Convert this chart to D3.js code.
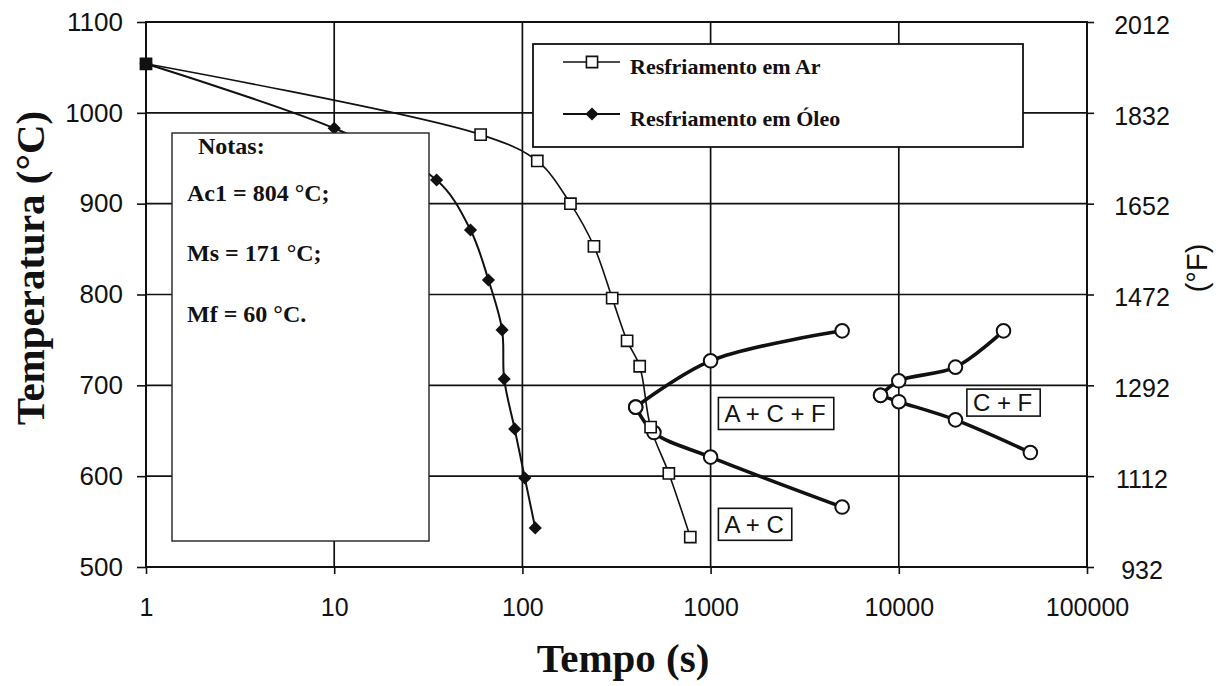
<!DOCTYPE html>
<html>
<head>
<meta charset="utf-8">
<script src="https://cdn.jsdelivr.net/npm/d3@7/dist/d3.min.js"></script>
<style>
  html, body { margin: 0; padding: 0; background: #fff; }
  svg { display: block; }
  .serif { font-family: "Liberation Serif", "Times New Roman", serif; font-weight: bold; fill: #111; }
  .sans { font-family: "Liberation Sans", Arial, sans-serif; fill: #111; }
</style>
</head>
<body>
<svg id="chart" width="1219" height="686"></svg>
<script>
// Axis ticks
const timeTicks = [1, 10, 100, 1000, 10000, 100000];
const tempTicksC = [500, 600, 700, 800, 900, 1000, 1100];
const tempTicksF = [932, 1112, 1292, 1472, 1652, 1832, 2012];

// Cooling curves (time in s, temperature in °C)
const airTime = [1, 60, 120, 180, 240, 300, 360, 420, 480, 600, 780];
const airTemp = [1054, 976, 947, 900, 853, 796, 749, 721, 654, 603, 533];
const oilTime = [1, 10, 35, 53, 66, 78, 80, 91, 103, 117];
const oilTemp = [1054, 983, 926, 871, 816, 761, 707, 652, 598, 543];

// Transformation curves
const acfUpperTime = [400, 1000, 5000];
const acfUpperTemp = [676, 727, 760];
const acfLowerTime = [400, 500, 1000, 5000];
const acfLowerTemp = [676, 648, 621, 566];
const cfUpperTime = [8000, 10000, 20000, 36000];
const cfUpperTemp = [689, 705, 720, 760];
const cfLowerTime = [8000, 10000, 20000, 50000];
const cfLowerTemp = [689, 682, 662, 626];

// Phase field labels (anchored at left / middle of their box)
const phaseLabels = ["A + C + F", "A + C", "C + F"];
const phaseTime = [1100, 1100, 23000];
const phaseTemp = [669, 547, 681];

const legendNames = ["Resfriamento em Ar", "Resfriamento em Óleo"];
const notes = ["Notas:", "Ac1 = 804 °C;", "Ms = 171 °C;", "Mf = 60 °C."];

const zip = (xs, ys) => xs.map((v, i) => [v, ys[i]]);

const svg = d3.select("#chart");
const L = 146, R = 1087, T = 22, B = 567;

const x = d3.scaleLog().domain([1, 100000]).range([L, R]);
const y = d3.scaleLinear().domain([500, 1100]).range([B, T]);
const yF = d3.scaleLinear().domain([932, 2012]).range([B, T]);

// Grid
const grid = svg.append("g").attr("stroke", "#111").attr("stroke-width", 1.7);
grid.selectAll("line.h").data(tempTicksC).join("line")
  .attr("x1", L).attr("x2", R).attr("y1", d => y(d)).attr("y2", d => y(d));
grid.selectAll("line.v").data(timeTicks).join("line")
  .attr("y1", T).attr("y2", B).attr("x1", d => x(d)).attr("x2", d => x(d));

// Axes
function styleAxis(g, size) {
  g.select(".domain").remove();
  g.selectAll(".tick line").attr("stroke", "#111").attr("stroke-width", 1.6);
  g.selectAll(".tick text").attr("class", "sans").style("font-size", size + "px");
}
svg.append("g").attr("transform", `translate(${L},0)`)
  .call(d3.axisLeft(y).tickValues(tempTicksC).tickSize(9).tickPadding(14).tickFormat(d3.format("d")))
  .call(g => styleAxis(g, 26));
svg.append("g").attr("transform", `translate(0,${B})`)
  .call(d3.axisBottom(x).tickValues(timeTicks).tickSize(7).tickPadding(24).tickFormat(d3.format("d")))
  .call(g => styleAxis(g, 25));
const rightAxis = svg.append("g").attr("transform", `translate(${R},0)`)
  .call(d3.axisRight(yF).tickValues(tempTicksF).tickSize(7).tickPadding(48).tickFormat(d3.format("d")))
  .call(g => styleAxis(g, 25));
rightAxis.selectAll(".tick text").attr("text-anchor", "middle").attr("dy", "0.45em");

// Plot frame
svg.append("rect").attr("x", L).attr("y", T).attr("width", R - L).attr("height", B - T)
  .attr("fill", "none").attr("stroke", "#111").attr("stroke-width", 2);

const line = d3.line().x(d => x(d[0])).y(d => y(d[1])).curve(d3.curveCatmullRom.alpha(0.5));

// Transformation curves
const transCurves = [
  zip(acfUpperTime, acfUpperTemp), zip(acfLowerTime, acfLowerTemp),
  zip(cfUpperTime, cfUpperTemp), zip(cfLowerTime, cfLowerTemp)
];
svg.append("g").selectAll("path").data(transCurves).join("path")
  .attr("d", line).attr("fill", "none").attr("stroke", "#111").attr("stroke-width", 3.6);

// Cooling curves
const air = zip(airTime, airTemp);
const oil = zip(oilTime, oilTemp);
svg.append("path").datum(air).attr("d", line).attr("fill", "none")
  .attr("stroke", "#111").attr("stroke-width", 1.6);
svg.append("path").datum(oil).attr("d", line).attr("fill", "none")
  .attr("stroke", "#111").attr("stroke-width", 2);

// Markers
const squareSym = d3.symbol().type(d3.symbolSquare).size(125);
const diamondSym = d3.symbol().type(d3.symbolDiamond2).size(110);

svg.append("g").selectAll("circle").data(transCurves.flat()).join("circle")
  .attr("cx", d => x(d[0])).attr("cy", d => y(d[1])).attr("r", 6.8)
  .attr("fill", "#fff").attr("stroke", "#111").attr("stroke-width", 2);
svg.append("g").selectAll("path").data(oil).join("path")
  .attr("d", diamondSym).attr("transform", d => `translate(${x(d[0])},${y(d[1])})`)
  .attr("fill", "#111");
svg.append("g").selectAll("path").data(air).join("path")
  .attr("d", squareSym).attr("transform", d => `translate(${x(d[0])},${y(d[1])})`)
  .attr("fill", d => d[0] === 1 ? "#111" : "#fff").attr("stroke", "#111").attr("stroke-width", 1.6);

// Phase labels
phaseLabels.forEach((txt, i) => {
  const g = svg.append("g").attr("transform", `translate(${x(phaseTime[i])},${y(phaseTemp[i])})`);
  const rect = g.append("rect").attr("fill", "#fff").attr("stroke", "#111").attr("stroke-width", 1.6);
  const t = g.append("text").attr("class", "sans").attr("x", 6).attr("dy", "0.36em")
    .style("font-size", "24px").text(txt);
  const w = t.node().getComputedTextLength();
  const h = i === 2 ? 27 : 32;
  rect.attr("x", 0).attr("y", -h / 2).attr("width", w + 14).attr("height", h);
});

// Notes box
svg.append("rect").attr("x", 172).attr("y", 133).attr("width", 257).attr("height", 408)
  .attr("fill", "#fff").attr("stroke", "#222").attr("stroke-width", 1.4);
const noteX = [198, 187, 187, 187];
const noteY = [154, 201, 261, 322];
svg.append("g").selectAll("text").data(notes).join("text")
  .attr("class", "serif").style("font-size", "24px")
  .attr("x", (d, i) => noteX[i]).attr("y", (d, i) => noteY[i]).text(d => d);

// Legend
const lg = svg.append("g");
lg.append("rect").attr("x", 533).attr("y", 44).attr("width", 490).attr("height", 103)
  .attr("fill", "#fff").attr("stroke", "#111").attr("stroke-width", 1.8);
const legRowY = [62, 114];
legendNames.forEach((name, i) => {
  const yy = legRowY[i];
  lg.append("line").attr("x1", 563).attr("x2", 620).attr("y1", yy).attr("y2", yy)
    .attr("stroke", "#111").attr("stroke-width", i === 0 ? 1.6 : 2);
  if (i === 0) {
    lg.append("path").attr("d", squareSym).attr("transform", `translate(592,${yy})`)
      .attr("fill", "#fff").attr("stroke", "#111").attr("stroke-width", 1.6);
  } else {
    lg.append("path").attr("d", diamondSym).attr("transform", `translate(592,${yy})`).attr("fill", "#111");
  }
  lg.append("text").attr("class", "serif").style("font-size", "22px")
    .attr("x", 630).attr("y", yy + 12).text(name);
});

// Axis titles
svg.append("text").attr("class", "serif").style("font-size", "41px")
  .attr("text-anchor", "middle").attr("transform", "translate(44,268) rotate(-90)")
  .text("Temperatura (°C)");
svg.append("text").attr("class", "serif").style("font-size", "41px")
  .attr("text-anchor", "middle").attr("x", 623).attr("y", 672)
  .text("Tempo (s)");
svg.append("text").attr("class", "sans").style("font-size", "29px")
  .attr("text-anchor", "middle").attr("transform", "translate(1207,268) rotate(-90)")
  .text("(°F)");
</script>
</body>
</html>
